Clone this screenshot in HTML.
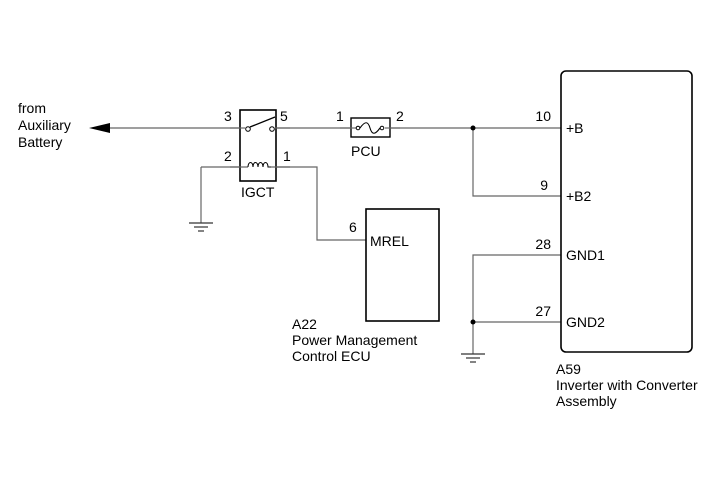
<!DOCTYPE html>
<html><head><meta charset="utf-8"><style>
html,body{margin:0;padding:0;background:#fff;}
text{font-family:"Liberation Sans",Arial,sans-serif;font-size:14px;fill:#000;}
</style></head><body>
<svg width="713" height="481" viewBox="0 0 713 481" xmlns="http://www.w3.org/2000/svg">
<g stroke="#666" stroke-width="1.2" fill="none">
<line x1="100" y1="128" x2="245" y2="128"/>
<line x1="275" y1="128" x2="355" y2="128"/>
<line x1="387" y1="128" x2="561" y2="128"/>
<polyline points="473,128 473,196 561,196"/>
<polyline points="201,167 248,167"/>
<polyline points="201,167 201,223"/>
<polyline points="271,167 317,167 317,240 366,240"/>
<polyline points="561,255 473,255 473,354"/>
<line x1="473" y1="322" x2="561" y2="322"/>
</g>
<g stroke="#333" stroke-width="1.2">
<line x1="189" y1="223" x2="213" y2="223"/>
<line x1="194" y1="227" x2="208" y2="227"/>
<line x1="198" y1="231" x2="204" y2="231"/>
<line x1="461" y1="354" x2="485" y2="354"/>
<line x1="466" y1="358" x2="480" y2="358"/>
<line x1="470" y1="362" x2="476" y2="362"/>
</g>
<polygon points="89,128 110,123 110,133" fill="#000"/>
<circle cx="473" cy="128" r="2.5" fill="#000"/>
<circle cx="473" cy="322" r="2.5" fill="#000"/>
<rect x="240" y="110" width="36" height="71" fill="#fff" stroke="#000" stroke-width="1.6"/>
<line x1="230" y1="128" x2="245" y2="128" stroke="#666" stroke-width="1.2"/>
<line x1="275" y1="128" x2="290" y2="128" stroke="#666" stroke-width="1.2"/>
<line x1="230" y1="167" x2="248" y2="167" stroke="#666" stroke-width="1.2"/>
<line x1="271" y1="167" x2="290" y2="167" stroke="#666" stroke-width="1.2"/>
<circle cx="248" cy="129" r="2.3" fill="#fff" stroke="#000" stroke-width="1"/>
<circle cx="272" cy="129" r="2.3" fill="#fff" stroke="#000" stroke-width="1"/>
<line x1="250" y1="127" x2="275" y2="117" stroke="#000" stroke-width="1.3"/>
<path d="M248,167 c0,-6 5,-6 5,0 c0,-6 5,-6 5,0 c0,-6 5,-6 5,0 c0,-6 5,-6 5,0 l3,0" fill="none" stroke="#000" stroke-width="1"/>
<rect x="351" y="118" width="39" height="19" fill="#fff" stroke="#000" stroke-width="1.4"/>
<line x1="340" y1="128" x2="356" y2="128" stroke="#666" stroke-width="1.2"/>
<line x1="385" y1="128" x2="400" y2="128" stroke="#666" stroke-width="1.2"/>
<circle cx="358" cy="128" r="1.8" fill="#fff" stroke="#000"/>
<circle cx="382" cy="128" r="1.8" fill="#fff" stroke="#000"/>
<path d="M360,128 c5,-7 8,-7 10,0 c2,7 5,7 10,0" fill="none" stroke="#000" stroke-width="1.1"/>
<rect x="366" y="209" width="73" height="112" fill="none" stroke="#000" stroke-width="1.6"/>
<rect x="561" y="71" width="131" height="281" rx="5" fill="none" stroke="#000" stroke-width="1.6"/>
<text x="18" y="113">from</text>
<text x="18" y="130">Auxiliary</text>
<text x="18" y="147">Battery</text>
<text x="224" y="121">3</text>
<text x="280" y="121">5</text>
<text x="224" y="161">2</text>
<text x="283" y="161">1</text>
<text x="241" y="197">IGCT</text>
<text x="336" y="121">1</text>
<text x="396" y="121">2</text>
<text x="351" y="156">PCU</text>
<text x="349" y="232">6</text>
<text x="370" y="246">MREL</text>
<text x="292" y="329">A22</text>
<text x="292" y="345">Power Management</text>
<text x="292" y="361">Control ECU</text>
<text x="551" y="121" text-anchor="end">10</text>
<text x="566" y="133">+B</text>
<text x="548" y="190" text-anchor="end">9</text>
<text x="566" y="201">+B2</text>
<text x="551" y="249" text-anchor="end">28</text>
<text x="566" y="260">GND1</text>
<text x="551" y="316" text-anchor="end">27</text>
<text x="566" y="327">GND2</text>
<text x="556" y="374">A59</text>
<text x="556" y="390">Inverter with Converter</text>
<text x="556" y="406">Assembly</text>
</svg>
</body></html>
